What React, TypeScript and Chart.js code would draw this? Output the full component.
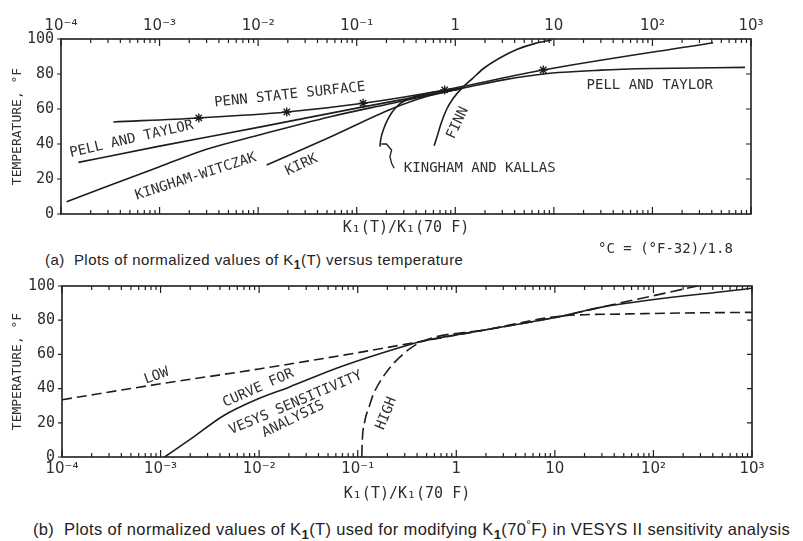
import React, { useEffect, useRef } from "react";
import { Chart, registerables } from "chart.js";
Chart.register(...registerables);

// ---------- shared axis data ----------
const decadeValues = [1e-4, 1e-3, 1e-2, 1e-1, 1, 10, 100, 1000];
const decadeLabels = ["10⁻⁴", "10⁻³", "10⁻²", "10⁻¹", "1", "10", "10²", "10³"];
const minorMultipliers = [2, 3, 4, 5, 6, 7, 8, 9];
const tempTicks = [0, 20, 40, 60, 80, 100];

// ---------- (a) top chart series ----------
const pennX = [3.4e-4, 2.5e-3, 0.0195, 0.116, 0.78, 7.8, 413];
const pennY = [52.6, 54.9, 58.3, 63.3, 70.9, 82.3, 97.9];
const pennMarks = [0, 1, 1, 1, 1, 1, 0];

const pellX = [1.5e-4, 1e-3, 0.01, 0.1, 1.16, 3, 9.1, 30, 100, 870];
const pellY = [29.5, 38.8, 49.5, 60.5, 71.8, 76.5, 80.4, 82.2, 83.1, 83.8];

const kwX = [1.14e-4, 3e-4, 1e-3, 3e-3, 0.01, 0.054, 0.2, 1.16];
const kwY = [7, 16, 27, 37, 45, 55.6, 62.6, 71.8];

const kirkX = [0.0122, 0.054, 0.234, 0.5, 1.16];
const kirkY = [28, 44, 60.4, 67, 71.8];

const kkX = [0.172, 0.175, 0.186, 0.209, 0.254, 0.347, 0.6, 1.16];
const kkY = [38.5, 42.3, 48, 54.7, 61.3, 66.1, 69.5, 71.8];
const kkLeaderX = [0.178, 0.2, 0.226, 0.217, 0.226, 0.24];
const kkLeaderY = [40, 40, 36.6, 32.7, 29, 26.1];

const finnX = [0.61, 0.66, 0.72, 0.82, 0.95, 1.16, 1.5, 1.92, 2.8, 4.2, 6.5, 9.5];
const finnY = [39, 45, 52, 60, 66, 71.8, 77.5, 83, 89, 94, 97.5, 99.4];

// ---------- (b) bottom chart series ----------
const lowX = [1e-4, 1e-3, 0.01, 0.1, 0.46, 2, 12, 50, 200, 1000];
const lowY = [33.5, 42.8, 51.5, 61, 67.8, 74.4, 82.5, 83.6, 84.2, 84.6];

const vesysX = [1.1e-3, 2.15e-3, 4.3e-3, 9.3e-3, 0.0204, 0.066, 0.268, 0.46, 2, 12, 29, 1000];
const vesysY = [0, 11.6, 24, 33.5, 41, 52.6, 64, 67.8, 74.4, 82.5, 87.5, 98.7];

const highX = [0.11, 0.111, 0.118, 0.13, 0.1435, 0.196, 0.289, 0.46, 2, 12, 29, 280];
const highY = [0, 8, 21, 29, 36.4, 49.7, 60.2, 67.8, 74.4, 82.5, 87.5, 100];

// ---------- curve labels (anchor in data units) ----------
const topLabels = [
  { text: "PENN STATE SURFACE", x: 0.0209, y: 68, angle: -6 },
  { text: "PELL AND TAYLOR", x: 5.2e-4, y: 42.7, angle: -13 },
  { text: "KINGHAM-WITCZAK", x: 2.33e-3, y: 21.3, angle: -18 },
  { text: "KIRK", x: 0.0276, y: 28, angle: -25 },
  { text: "KINGHAM AND KALLAS", x: 1.77, y: 26.1, angle: 0 },
  { text: "FINN", x: 1.06, y: 52, angle: -65 },
  { text: "PELL AND TAYLOR", x: 94, y: 73.7, angle: 0 },
];
const bottomLabels = [
  { text: "LOW", x: 9.1e-4, y: 47.3, angle: -20 },
  { text: "CURVE FOR", x: 9.8e-3, y: 40.2, angle: -24 },
  { text: "VESYS SENSITIVITY", x: 0.0235, y: 31.6, angle: -23 },
  { text: "ANALYSIS", x: 0.0222, y: 22.1, angle: -26 },
  { text: "HIGH", x: 0.196, y: 25.4, angle: -68 },
];

const INK = "#1e1e1e";
const TEXT = "#2e2e2e";
const MONO = '"DejaVu Sans Mono", monospace';
const SANS_T = '"DejaVu Sans", sans-serif';

const pts = (xs: number[], ys: number[]) => xs.map((x, i) => ({ x, y: ys[i] }));

const frameTicks = {
  id: "frameTicks",
  afterDatasetsDraw(chart: any) {
    const { ctx, chartArea } = chart;
    const { left, right, top, bottom } = chartArea;
    const xs = chart.scales.x;
    const ys = chart.scales.y;
    ctx.save();
    ctx.strokeStyle = INK;
    ctx.lineWidth = 1.6;
    ctx.strokeRect(left, top, right - left, bottom - top);
    ctx.lineWidth = 1.2;
    ctx.beginPath();
    decadeValues.forEach((d, i) => {
      const px = xs.getPixelForValue(d);
      ctx.moveTo(px, top);
      ctx.lineTo(px, top + 7);
      ctx.moveTo(px, bottom);
      ctx.lineTo(px, bottom - 7);
      if (i < decadeValues.length - 1) {
        minorMultipliers.forEach((m) => {
          const qx = xs.getPixelForValue(d * m);
          ctx.moveTo(qx, top);
          ctx.lineTo(qx, top + 4);
          ctx.moveTo(qx, bottom);
          ctx.lineTo(qx, bottom - 4);
        });
      }
    });
    tempTicks.forEach((t) => {
      const py = ys.getPixelForValue(t);
      ctx.moveTo(left, py);
      ctx.lineTo(left - 4, py);
      if (t > 0 && t < 100) {
        ctx.moveTo(right, py);
        ctx.lineTo(right - 5, py);
      }
    });
    ctx.stroke();
    ctx.restore();
  },
};

const curveLabels = {
  id: "curveLabels",
  afterDatasetsDraw(chart: any, _a: any, opts: any) {
    const items = opts.items || [];
    const { ctx } = chart;
    const xs = chart.scales.x;
    const ys = chart.scales.y;
    ctx.save();
    ctx.font = `14px ${MONO}`;
    ctx.fillStyle = TEXT;
    ctx.textAlign = "center";
    ctx.textBaseline = "middle";
    items.forEach((it: any) => {
      const px = xs.getPixelForValue(it.x);
      const py = ys.getPixelForValue(it.y);
      ctx.save();
      ctx.translate(px, py);
      ctx.rotate((it.angle * Math.PI) / 180);
      ctx.fillText(it.text, 0, 0);
      ctx.restore();
    });
    ctx.restore();
  },
};

const lineDs = (label: string, data: any[], extra: any = {}) => ({
  label,
  data,
  borderColor: INK,
  backgroundColor: INK,
  borderWidth: 1.6,
  pointRadius: 0,
  fill: false,
  tension: 0.3,
  cubicInterpolationMode: "monotone",
  ...extra,
});

const xTicks = (padding: number, show = true) => ({
  display: show,
  autoSkip: false,
  maxRotation: 0,
  minRotation: 0,
  color: TEXT,
  padding,
  font: { family: SANS_T, size: 15 },
  callback: (_v: any, i: number) => decadeLabels[i],
});

const logX = (position: string, extra: any = {}) => ({
  type: "logarithmic",
  position,
  min: 1e-4,
  max: 1e3,
  afterBuildTicks: (s: any) => {
    s.ticks = decadeValues.map((v) => ({ value: v }));
  },
  grid: { display: false, drawTicks: false },
  border: { display: false },
  ...extra,
});

const axisTitle = (text: string, size: number, padding: any) => ({
  display: true,
  text,
  color: TEXT,
  font: { family: MONO, size },
  padding,
});

const yAxis = (width: number) => ({
  type: "linear",
  min: 0,
  max: 100,
  afterBuildTicks: (s: any) => {
    s.ticks = tempTicks.map((v) => ({ value: v }));
  },
  ticks: { color: TEXT, font: { family: MONO, size: 15 }, padding: 7 },
  grid: { display: false, drawTicks: false },
  border: { display: false },
  title: axisTitle("TEMPERATURE, °F", 13, { top: 10, bottom: 0 }),
  afterFit: (s: any) => {
    s.width = width;
  },
});

function useChart(ref: React.RefObject<HTMLCanvasElement>, make: () => any) {
  useEffect(() => {
    if (!ref.current) return;
    const chart = new Chart(ref.current, make());
    return () => chart.destroy();
  }, []);
}

export default function App() {
  const topRef = useRef<HTMLCanvasElement>(null);
  const botRef = useRef<HTMLCanvasElement>(null);

  useChart(topRef, () => ({
    type: "line",
    data: {
      datasets: [
        lineDs("Penn State Surface", pts(pennX, pennY), {
          pointRadius: pennMarks.map((m) => m * 4.5),
          pointStyle: "star",
          pointBorderWidth: 1.4,
          tension: 0,
        }),
        lineDs("Pell and Taylor", pts(pellX, pellY)),
        lineDs("Kingham-Witczak", pts(kwX, kwY)),
        lineDs("Kirk", pts(kirkX, kirkY)),
        lineDs("Kingham and Kallas", pts(kkX, kkY)),
        lineDs("Kingham and Kallas leader", pts(kkLeaderX, kkLeaderY), { tension: 0, cubicInterpolationMode: "default", borderWidth: 1.3 }),
        lineDs("Finn", pts(finnX, finnY)),
      ],
    },
    options: {
      responsive: false,
      animation: false,
      layout: { padding: { left: 0, right: 52, top: 0, bottom: 0 } },
      plugins: {
        legend: { display: false },
        tooltip: { enabled: false },
        curveLabels: { items: topLabels },
      },
      scales: {
        x: logX("top", {
          ticks: xTicks(4),
          afterFit: (s: any) => {
            s.height = 39;
          },
        }),
        x2: logX("bottom", {
          ticks: { display: false },
          title: axisTitle("K₁(T)/K₁(70 F)", 15, { top: 0, bottom: 3 }),
          afterFit: (s: any) => {
            s.height = 26;
          },
        }),
        y: yAxis(61),
      },
    },
    plugins: [frameTicks, curveLabels],
  }));

  useChart(botRef, () => ({
    type: "line",
    data: {
      datasets: [
        lineDs("Curve for VESYS sensitivity analysis", pts(vesysX, vesysY)),
        lineDs("Low", pts(lowX, lowY), { borderDash: [10, 5] }),
        lineDs("High", pts(highX, highY), { borderDash: [12, 5] }),
      ],
    },
    options: {
      responsive: false,
      animation: false,
      layout: { padding: { left: 0, right: 51, top: 12, bottom: 0 } },
      plugins: {
        legend: { display: false },
        tooltip: { enabled: false },
        curveLabels: { items: bottomLabels },
      },
      scales: {
        x: logX("bottom", {
          ticks: xTicks(3),
          title: axisTitle("K₁(T)/K₁(70 F)", 15, { top: 0, bottom: 3 }),
          afterFit: (s: any) => {
            s.height = 49;
          },
        }),
        y: yAxis(62),
      },
    },
    plugins: [frameTicks, curveLabels],
  }));

  const sans = '"Liberation Sans", Arial, sans-serif';
  const sub = { fontSize: "0.8em", fontWeight: 700 };
  return (
    <div style={{ position: "absolute", left: 0, top: 0, width: 803, height: 541, background: "#fff", overflow: "hidden" }}>
      <canvas ref={topRef} width={803} height={240} style={{ position: "absolute", left: 0, top: 0, display: "block" }} />
      <div style={{ position: "absolute", left: 598, top: 239, font: `14px ${MONO}`, lineHeight: "18px", color: TEXT, whiteSpace: "nowrap" }}>
        °C = (°F-32)/1.8
      </div>
      <div style={{ position: "absolute", left: 45, top: 251, font: `15px ${sans}`, letterSpacing: "0.45px", lineHeight: "18px", color: "#222", whiteSpace: "nowrap" }}>
        (a)&nbsp; Plots of normalized values of K<sub style={sub}>1</sub>(T) versus temperature
      </div>
      <canvas ref={botRef} width={803} height={236} style={{ position: "absolute", left: 0, top: 270, display: "block" }} />
      <div style={{ position: "absolute", left: 33, top: 515, font: `16.5px ${sans}`, letterSpacing: "0.35px", lineHeight: "18px", color: "#222", whiteSpace: "nowrap" }}>
        (b)&nbsp; Plots of normalized values of K<sub style={sub}>1</sub>(T) used for modifying K<sub style={sub}>1</sub>(70<sup style={{ fontSize: "0.7em" }}>°</sup>F) in VESYS II sensitivity analysis
      </div>
    </div>
  );
}
